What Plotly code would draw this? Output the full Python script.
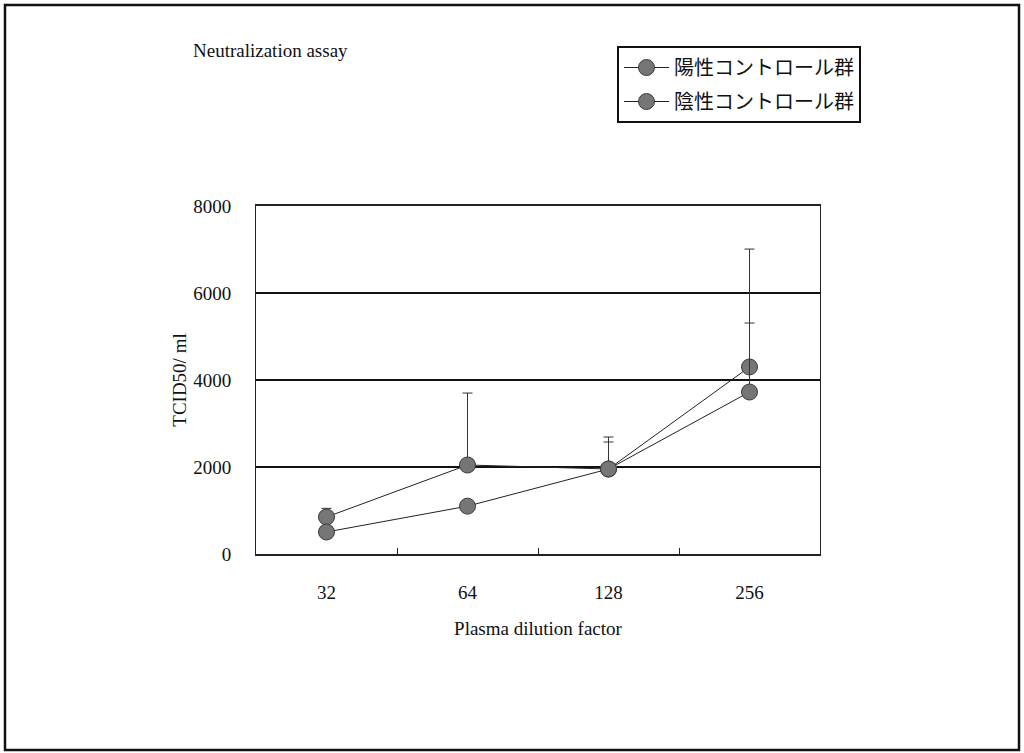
import plotly.graph_objects as go

categories = ["32", "64", "128", "256"]
pos_label = "陽性コントロール群"
neg_label = "陰性コントロール群"
pos_values = [850, 2046, 1954, 4300]
pos_errors = [200, 1654, 736, 2710]
neg_values = [506, 1100, 1954, 3724]
neg_errors = [100, 120, 621, 1586]
y_ticks = [0, 2000, 4000, 6000, 8000]

FONT = "Liberation Serif, Noto Sans CJK JP, serif"

# plot area geometry (pixels)
L, R, T, B = 256, 820, 206, 554
W, H = 1024, 753
pw, ph = R - L, B - T

def px_x(px):
    return (px - L) / pw

def px_y(py):
    return (B - py) / ph

fig = go.Figure()

for i, (name, vals, errs) in enumerate([(pos_label, pos_values, pos_errors), (neg_label, neg_values, neg_errors)]):
    fig.add_trace(go.Scatter(
        x=categories, y=vals, name=name, mode="lines+markers", legendgroup=f"g{i}",
        line=dict(color="#222222", width=1),
        marker=dict(size=16, color="#767676", line=dict(color="#3a3a3a", width=1)),
        error_y=dict(type="data", array=errs, symmetric=False, arrayminus=[0] * len(errs),
                     color="#333333", thickness=1, width=5),
    ))

fig.update_layout(
    width=W, height=H,
    margin=dict(l=L, r=W - R, t=T, b=H - B),
    paper_bgcolor="white", plot_bgcolor="white",
    font=dict(family=FONT, color="#111111", size=19),
    showlegend=True,
    legend=dict(
        x=px_x(617), y=px_y(46), xanchor="left", yanchor="top",
        bordercolor="#111111", borderwidth=2, bgcolor="white",
        font=dict(family=FONT, size=20, color="#111111"),
        itemwidth=45, tracegroupgap=5,
    ),
    title=dict(text="Neutralization assay", x=193 / W, y=1 - 50 / H,
               xanchor="left", yanchor="middle", xref="container", yref="container",
               font=dict(family=FONT, size=19, color="#111111")),
    xaxis=dict(
        type="category", range=[-0.5, 3.5],
        showline=True, linecolor="#222222", linewidth=1.5, mirror=True,
        ticks="inside", tickson="boundaries", ticklen=6, tickcolor="#222222",
        showgrid=False,
        tickfont=dict(family=FONT, size=19), ticklabelstandoff=20,
        title=dict(text="Plasma dilution factor", font=dict(family=FONT, size=19), standoff=20),
    ),
    yaxis=dict(
        range=[0, 8000], tickvals=y_ticks,
        showline=True, linecolor="#222222", linewidth=1, mirror=True,
        ticks="", showgrid=True, gridcolor="#111111", gridwidth=1.6,
        zeroline=False,
        tickfont=dict(family=FONT, size=19), ticklabelstandoff=20,
        title=dict(text="TCID50/ ml", font=dict(family=FONT, size=19), standoff=1),
    ),
    shapes=[dict(
        type="rect", xref="paper", yref="paper",
        x0=px_x(5), x1=px_x(1019), y0=px_y(750), y1=px_y(5),
        line=dict(color="#111111", width=2.5), layer="below",
    )],
)

fig.write_html("out.html", config={"displayModeBar": False},
               post_script="document.body.style.margin='0px';")
